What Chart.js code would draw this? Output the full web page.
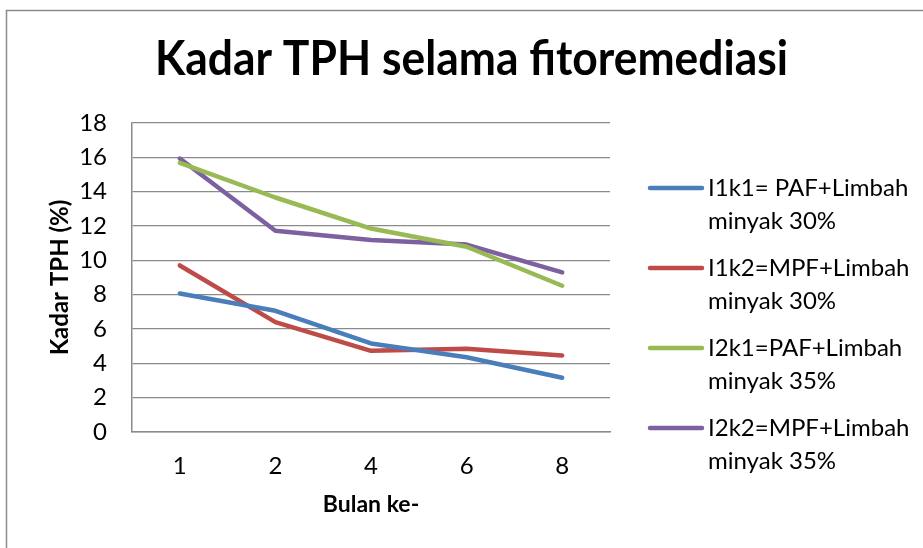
<!DOCTYPE html>
<html>
<head>
<meta charset="utf-8">
<script src="https://cdn.jsdelivr.net/npm/chart.js@4"></script>
<style>
  html, body { margin: 0; padding: 0; background: #fff; }
</style>
</head>
<body>
<canvas id="tphChart" width="923" height="548"></canvas>
<script>
// data
const months = ["1", "2", "4", "6", "8"];
const yTicks = [0, 2, 4, 6, 8, 10, 12, 14, 16, 18];
const i1k1 = [8.07, 7.06, 5.16, 4.35, 3.16];
const i1k2 = [9.70, 6.40, 4.73, 4.85, 4.46];
const i2k1 = [15.68, 13.66, 11.85, 10.79, 8.52];
const i2k2 = [15.93, 11.72, 11.18, 10.92, 9.30];
const seriesNames = [
  ["I1k1= PAF+Limbah", "minyak 30%"],
  ["I1k2=MPF+Limbah", "minyak 30%"],
  ["I2k1=PAF+Limbah", "minyak 35%"],
  ["I2k2=MPF+Limbah", "minyak 35%"]
];
const colors = ["#4A7EBB", "#BE4B48", "#98B954", "#7D60A0"];

const FONT = "Lato, 'Open Sans', sans-serif";
const gridGray = "#8a8a8a";

// frame, title and the two-line legend
const decor = {
  id: "decor",
  beforeDraw(chart) {
    const ctx = chart.ctx;
    ctx.save();
    ctx.fillStyle = "#fff";
    ctx.fillRect(0, 0, chart.width, chart.height);
    ctx.strokeStyle = "#8c8c8c";
    ctx.lineWidth = 1.5;
    ctx.strokeRect(6.5, 10.5, 1200, 1200);
    ctx.restore();
  },
  afterDraw(chart) {
    const ctx = chart.ctx;
    ctx.save();
    ctx.fillStyle = "#000";
    ctx.font = "bold 48px " + FONT;
    ctx.textAlign = "center";
    ctx.textBaseline = "alphabetic";
    ctx.save();
    ctx.translate(471.5, 75);
    ctx.scale(0.925, 1);
    ctx.fillText("Kadar TPH selama fitoremediasi", 0, 0);
    ctx.restore();

    ctx.font = "24px " + FONT;
    ctx.textAlign = "left";
    ctx.textBaseline = "middle";
    chart.data.datasets.forEach((ds, i) => {
      const y = 188 + i * 80;
      ctx.strokeStyle = ds.borderColor;
      ctx.lineWidth = 4.5;
      ctx.lineCap = "round";
      ctx.beginPath();
      ctx.moveTo(650, y);
      ctx.lineTo(702, y);
      ctx.stroke();
      ctx.fillStyle = "#000";
      seriesNames[i].forEach((t, j) => ctx.fillText(t, 708, y + j * 33));
    });
    ctx.restore();
  }
};

const datasets = [i1k1, i1k2, i2k1, i2k2].map((vals, i) => ({
  label: seriesNames[i].join(" "),
  data: vals,
  borderColor: colors[i],
  backgroundColor: colors[i],
  borderWidth: 4.5,
  borderCapStyle: "round",
  borderJoinStyle: "round",
  pointRadius: 0,
  tension: 0,
  fill: false
}));

new Chart(document.getElementById("tphChart"), {
  type: "line",
  data: { labels: months, datasets: datasets },
  options: {
    responsive: false,
    animation: false,
    devicePixelRatio: 1,
    layout: { padding: { top: 123, right: 313, bottom: 0, left: 0 } },
    plugins: {
      legend: { display: false },
      title: { display: false },
      tooltip: { enabled: false }
    },
    scales: {
      x: {
        offset: true,
        afterFit: s => { s.height = 116; },
        grid: { display: false, drawTicks: false },
        border: { color: gridGray, width: 1.5 },
        ticks: { color: "#000", padding: 20, font: { family: FONT, size: 24 } },
        title: {
          display: true,
          text: "Bulan ke-",
          color: "#000",
          font: { family: FONT, size: 23, weight: "bold" },
          padding: { top: 0, bottom: 30 }
        }
      },
      y: {
        min: 0,
        max: 18,
        afterFit: s => { s.width = 132; },
        afterBuildTicks: s => { s.ticks = yTicks.map(v => ({ value: v })); },
        grid: { color: gridGray, lineWidth: 1.3, drawTicks: false },
        border: { color: gridGray, width: 1.5 },
        ticks: { color: "#000", padding: 25, font: { family: FONT, size: 24 } },
        title: {
          display: true,
          text: "Kadar TPH (%)",
          color: "#000",
          font: { family: FONT, size: 24, weight: "bold" },
          padding: { top: 46, bottom: 0 }
        }
      }
    }
  },
  plugins: [decor]
});
</script>
</body>
</html>
